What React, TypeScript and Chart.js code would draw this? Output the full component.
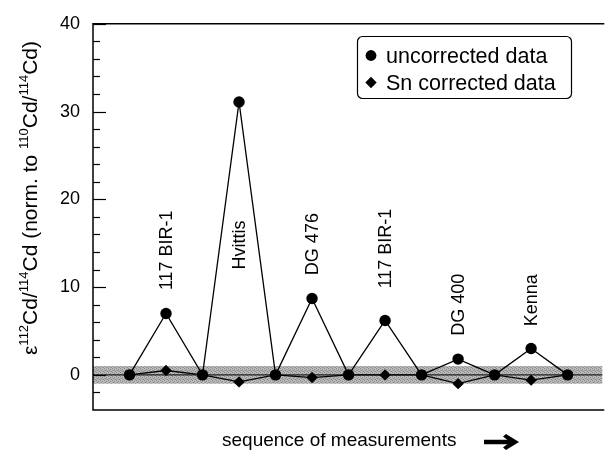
import React, { useEffect, useRef } from "react";
import { Chart, registerables } from "chart.js";

Chart.register(...registerables);

// ---------- data ----------
const sequence = [0, 1, 2, 3, 4, 5, 6, 7, 8, 9, 10, 11, 12];
const uncorrected = [0, 7.0, 0, 31.1, 0, 8.7, 0, 6.2, 0, 1.8, 0, 3.0, 0];
const snCorrected = [0, 0.5, 0, -0.8, 0, -0.3, 0, 0.0, 0, -1.0, 0, -0.6, 0];
const sampleNames = ["117 BIR-1", "Hvittis", "DG 476", "117 BIR-1", "DG 400", "Kenna"];
const sampleIndex = [1, 3, 5, 7, 9, 11];
const sampleLabelCenter = [14.2, 14.8, 14.9, 14.4, 8.0, 8.5];
const yTickValues = [0, 10, 20, 30, 40];
const bandLimits = [-1, 1];
const legendLabels = ["uncorrected data", "Sn corrected data"];
const xTitle = "sequence of measurements";
const yTitleParts: [string, boolean][] = [
  ["ε", false],
  ["112", true],
  ["Cd/", false],
  ["114", true],
  ["Cd (norm. to ", false],
  ["110", true],
  ["Cd/", false],
  ["114", true],
  ["Cd)", false],
];

const FONT = "'Liberation Sans', Arial, Helvetica, sans-serif";

function makeBandPattern(ctx: CanvasRenderingContext2D) {
  const c = document.createElement("canvas");
  c.width = 4;
  c.height = 4;
  const p = c.getContext("2d")!;
  p.fillStyle = "#bababa";
  p.fillRect(0, 0, 4, 4);
  p.fillStyle = "#888888";
  p.fillRect(0, 0, 1, 1);
  p.fillRect(2, 1, 1, 1);
  p.fillRect(1, 2, 1, 1);
  p.fillRect(3, 3, 1, 1);
  p.fillStyle = "#a0a0a0";
  p.fillRect(2, 3, 1, 1);
  p.fillRect(0, 2, 1, 1);
  return ctx.createPattern(c, "repeat") || "#aaaaaa";
}

const decorPlugin = {
  id: "decor",
  beforeDatasetsDraw(chart: any) {
    const { ctx, chartArea: a, scales } = chart;
    const y = scales.y;
    ctx.save();
    const yt = y.getPixelForValue(bandLimits[1]);
    const yb = y.getPixelForValue(bandLimits[0]);
    ctx.fillStyle = makeBandPattern(ctx);
    ctx.fillRect(a.left, yt, a.right - a.left, yb - yt);
    const y0 = y.getPixelForValue(0);
    ctx.strokeStyle = "#000";
    ctx.lineWidth = 1;
    ctx.beginPath();
    ctx.moveTo(a.left, y0);
    ctx.lineTo(a.right, y0);
    ctx.stroke();
    ctx.restore();
  },
  afterDraw(chart: any) {
    const { ctx, chartArea: a, scales } = chart;
    const x = scales.x;
    const y = scales.y;
    ctx.save();

    // frame (left, top, bottom)
    ctx.strokeStyle = "#000";
    ctx.lineWidth = 1.5;
    ctx.beginPath();
    ctx.moveTo(a.right + 2, a.top);
    ctx.lineTo(a.left, a.top);
    ctx.lineTo(a.left, a.bottom);
    ctx.lineTo(a.right + 2, a.bottom);
    ctx.stroke();

    // inward ticks
    ctx.lineWidth = 1.2;
    const yMin = y.min;
    const yMax = y.max;
    for (let v = Math.ceil(yMin / 2) * 2; v <= yMax; v += 2) {
      if (v === yMin) continue;
      const py = Math.round(y.getPixelForValue(v)) + 0.5;
      const len = v % 10 === 0 ? 13 : 7;
      ctx.beginPath();
      ctx.moveTo(a.left, py);
      ctx.lineTo(a.left + len, py);
      ctx.stroke();
    }

    // sample labels (rotated)
    ctx.fillStyle = "#000";
    ctx.font = `18px ${FONT}`;
    ctx.textAlign = "center";
    ctx.textBaseline = "middle";
    sampleNames.forEach((name, i) => {
      const px = x.getPixelForValue(sequence[sampleIndex[i]]);
      const py = y.getPixelForValue(sampleLabelCenter[i]);
      ctx.save();
      ctx.translate(px, py);
      ctx.rotate(-Math.PI / 2);
      ctx.fillText(name, 0, 1);
      ctx.restore();
    });

    // legend
    const lx = 357, ly = 36, lw = 214, lh = 62;
    ctx.lineWidth = 1.2;
    ctx.beginPath();
    if (ctx.roundRect) ctx.roundRect(lx + 0.5, ly + 0.5, lw, lh, 5);
    else ctx.rect(lx + 0.5, ly + 0.5, lw, lh);
    ctx.fillStyle = "#fff";
    ctx.fill();
    ctx.stroke();
    ctx.fillStyle = "#000";
    ctx.font = `21.5px ${FONT}`;
    ctx.textAlign = "left";
    ctx.textBaseline = "alphabetic";
    const base1 = 63, base2 = 90;
    ctx.fillText(legendLabels[0], 386, base1);
    ctx.fillText(legendLabels[1], 386, base2);
    ctx.beginPath();
    ctx.arc(371, base1 - 7.5, 5.4, 0, Math.PI * 2);
    ctx.fill();
    const dcx = 371, dcy = base2 - 7.5, dr = 5.7;
    ctx.beginPath();
    ctx.moveTo(dcx, dcy - dr);
    ctx.lineTo(dcx + dr, dcy);
    ctx.lineTo(dcx, dcy + dr);
    ctx.lineTo(dcx - dr, dcy);
    ctx.closePath();
    ctx.fill();

    // x title + arrow
    ctx.font = `19px ${FONT}`;
    ctx.fillText(xTitle, 222, 446);
    const ay = 442;
    ctx.lineWidth = 4.5;
    ctx.beginPath();
    ctx.moveTo(484, ay);
    ctx.lineTo(511, ay);
    ctx.stroke();
    ctx.beginPath();
    ctx.moveTo(519, ay);
    ctx.lineTo(506, ay - 8);
    ctx.lineTo(503, ay - 5.5);
    ctx.lineTo(510, ay);
    ctx.lineTo(503, ay + 5.5);
    ctx.lineTo(506, ay + 8);
    ctx.closePath();
    ctx.fill();

    // y title with superscripts (rotated)
    const mainFont = `21px ${FONT}`;
    const supFont = `13px ${FONT}`;
    let total = 0;
    yTitleParts.forEach(([t, sup]) => {
      ctx.font = sup ? supFont : mainFont;
      total += ctx.measureText(t).width;
    });
    const centerY = 198;
    const baseX = 37;
    ctx.save();
    ctx.translate(baseX, centerY + total / 2);
    ctx.rotate(-Math.PI / 2);
    let cx = 0;
    yTitleParts.forEach(([t, sup]) => {
      ctx.font = sup ? supFont : mainFont;
      ctx.fillText(t, cx, sup ? -9 : 0);
      cx += ctx.measureText(t).width;
    });
    ctx.restore();

    ctx.restore();
  },
};

export default function App() {
  const canvasRef = useRef<HTMLCanvasElement | null>(null);

  useEffect(() => {
    document.body.style.margin = "0";
    const canvas = canvasRef.current;
    if (!canvas) return;
    const pts = (arr: number[]) => arr.map((v, i) => ({ x: sequence[i], y: v }));
    const chart = new Chart(canvas, {
      type: "line",
      data: {
        datasets: [
          {
            label: legendLabels[0],
            data: pts(uncorrected),
            borderColor: "#000",
            borderWidth: 1.3,
            backgroundColor: "#000",
            pointStyle: "circle",
            pointRadius: 5.7,
            pointBorderWidth: 0,
            pointBackgroundColor: "#000",
            tension: 0,
          },
          {
            label: legendLabels[1],
            data: pts(snCorrected),
            borderColor: "#000",
            borderWidth: 1.3,
            backgroundColor: "#000",
            pointStyle: "rectRot",
            pointRadius: (c: any) => (c.dataIndex % 2 === 1 ? 5.7 : 0),
            pointBorderWidth: 0,
            pointBackgroundColor: "#000",
            tension: 0,
          },
        ],
      },
      options: {
        animation: false,
        responsive: false,
        layout: { padding: { top: 18, bottom: 50, left: 0, right: 0 } },
        plugins: {
          legend: { display: false },
          tooltip: { enabled: false },
          title: { display: false },
        },
        scales: {
          x: {
            type: "linear",
            min: -1,
            max: 12.95,
            display: false,
          },
          y: {
            type: "linear",
            min: -4,
            max: 40,
            grid: { display: false, drawTicks: false },
            border: { display: false },
            afterBuildTicks: (s: any) => {
              s.ticks = yTickValues.map((v) => ({ value: v }));
            },
            afterFit: (s: any) => {
              s.width = 93;
            },
            ticks: {
              color: "#000",
              padding: 13,
              font: { family: FONT, size: 18 },
            },
          },
        },
      },
      plugins: [decorPlugin],
    } as any);
    return () => chart.destroy();
  }, []);

  return (
    <div style={{ width: 608, height: 460 }}>
      <canvas ref={canvasRef} width={608} height={460} style={{ display: "block" }} />
    </div>
  );
}
